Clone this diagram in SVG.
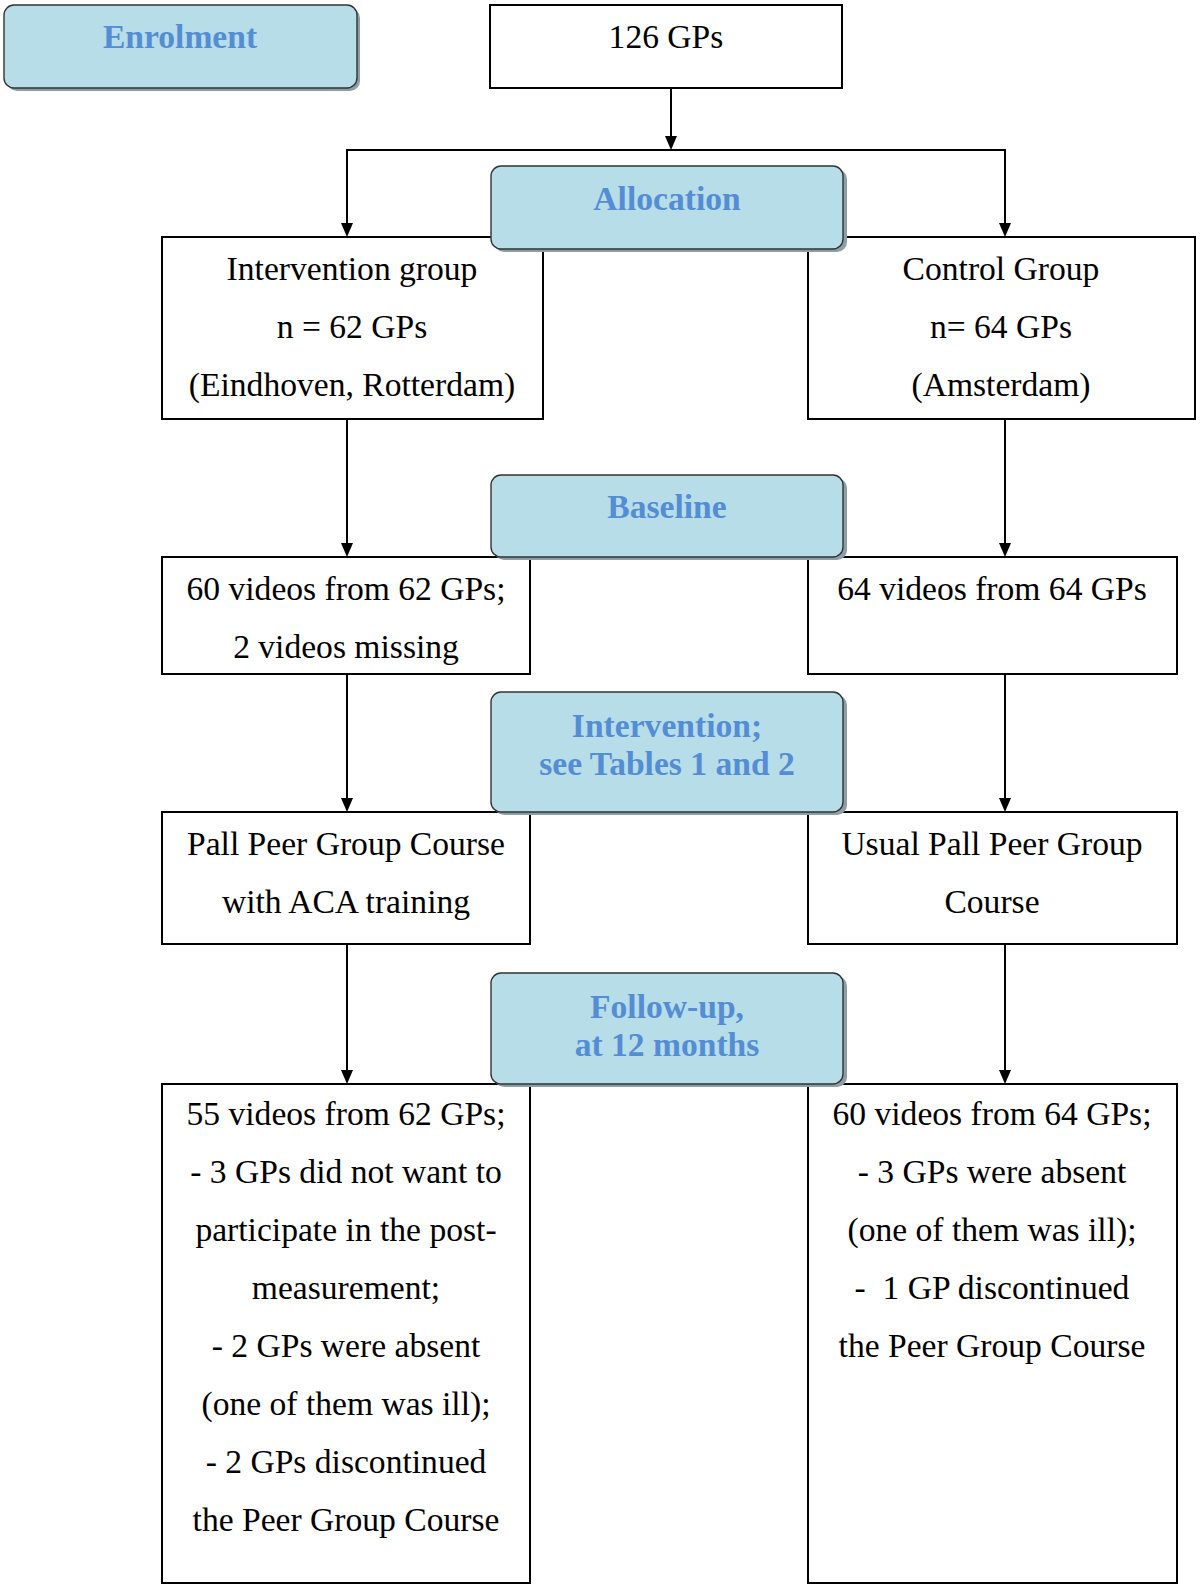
<svg xmlns="http://www.w3.org/2000/svg" width="1200" height="1586" viewBox="0 0 1200 1586">
<style>
.box{fill:#fff;stroke:#000;stroke-width:2}
.phase{fill:#B6DDE8;stroke:#333;stroke-width:1.4}
.shadow{fill:#8e9ea4}
.t{font-family:"Liberation Serif",serif;font-size:33.6px;fill:#000;text-anchor:middle;white-space:pre}
.h{font-family:"Liberation Serif",serif;font-size:33.6px;font-weight:bold;fill:#548DD4;text-anchor:middle}
.c{stroke:#000;stroke-width:2;fill:none}
</style>
<g id="connectors">
<line class="c" x1="671" y1="88" x2="671" y2="140"/>
<path d="M665,136 L677,136 L671,150 Z"/>
<polyline class="c" points="347,225 347,150 1005,150 1005,225"/>
<path d="M341,223 L353,223 L347,237 Z"/>
<path d="M999,223 L1011,223 L1005,237 Z"/>
<line class="c" x1="347" y1="419" x2="347" y2="545"/>
<path d="M341,543 L353,543 L347,557 Z"/>
<line class="c" x1="1005" y1="419" x2="1005" y2="545"/>
<path d="M999,543 L1011,543 L1005,557 Z"/>
<line class="c" x1="347" y1="674" x2="347" y2="800"/>
<path d="M341,798 L353,798 L347,812 Z"/>
<line class="c" x1="1005" y1="674" x2="1005" y2="800"/>
<path d="M999,798 L1011,798 L1005,812 Z"/>
<line class="c" x1="347" y1="944" x2="347" y2="1072"/>
<path d="M341,1070 L353,1070 L347,1084 Z"/>
<line class="c" x1="1005" y1="944" x2="1005" y2="1072"/>
<path d="M999,1070 L1011,1070 L1005,1084 Z"/>
</g>
<g id="n126">
<rect class="box" x="490" y="5" width="352" height="83"/>
<text class="t" x="666" y="48">126 GPs</text>
</g>
<g id="intervention-group">
<rect class="box" x="162" y="237" width="381" height="182"/>
<text class="t" x="352" y="280">Intervention group</text>
<text class="t" x="352" y="338">n = 62 GPs</text>
<text class="t" x="352" y="396">(Eindhoven, Rotterdam)</text>
</g>
<g id="control-group">
<rect class="box" x="808" y="237" width="387" height="182"/>
<text class="t" x="1001" y="280">Control Group</text>
<text class="t" x="1001" y="338">n= 64 GPs</text>
<text class="t" x="1001" y="396">(Amsterdam)</text>
</g>
<g id="baseline-int">
<rect class="box" x="162" y="557" width="368" height="117"/>
<text class="t" x="346" y="600">60 videos from 62 GPs;</text>
<text class="t" x="346" y="658">2 videos missing</text>
</g>
<g id="baseline-ctl">
<rect class="box" x="808" y="557" width="369" height="117"/>
<text class="t" x="992" y="600">64 videos from 64 GPs</text>
</g>
<g id="course-int">
<rect class="box" x="162" y="812" width="368" height="132"/>
<text class="t" x="346" y="855">Pall Peer Group Course</text>
<text class="t" x="346" y="913">with ACA training</text>
</g>
<g id="course-ctl">
<rect class="box" x="808" y="812" width="369" height="132"/>
<text class="t" x="992" y="855">Usual Pall Peer Group</text>
<text class="t" x="992" y="913">Course</text>
</g>
<g id="followup-int">
<rect class="box" x="162" y="1084" width="368" height="499"/>
<text class="t" x="346" y="1125">55 videos from 62 GPs;</text>
<text class="t" x="346" y="1183">- 3 GPs did not want to</text>
<text class="t" x="346" y="1241">participate in the post-</text>
<text class="t" x="346" y="1299">measurement;</text>
<text class="t" x="346" y="1357">- 2 GPs were absent</text>
<text class="t" x="346" y="1415">(one of them was ill);</text>
<text class="t" x="346" y="1473">- 2 GPs discontinued</text>
<text class="t" x="346" y="1531">the Peer Group Course</text>
</g>
<g id="followup-ctl">
<rect class="box" x="808" y="1084" width="369" height="499"/>
<text class="t" x="992" y="1125">60 videos from 64 GPs;</text>
<text class="t" x="992" y="1183">- 3 GPs were absent</text>
<text class="t" x="992" y="1241">(one of them was ill);</text>
<text class="t" x="992" y="1299">-  1 GP discontinued</text>
<text class="t" x="992" y="1357">the Peer Group Course</text>
</g>
<g id="enrolment">
<rect class="shadow" x="7" y="8" width="353" height="83" rx="10"/>
<rect class="phase" x="4" y="5" width="353" height="83" rx="10"/>
<text class="h" x="180" y="48">Enrolment</text>
</g>
<g id="allocation">
<rect class="shadow" x="494" y="169" width="353" height="83" rx="10"/>
<rect class="phase" x="491" y="166" width="352" height="83" rx="10"/>
<text class="h" x="667" y="210">Allocation</text>
</g>
<g id="baseline">
<rect class="shadow" x="494" y="478" width="353" height="82" rx="10"/>
<rect class="phase" x="491" y="475" width="352" height="82" rx="10"/>
<text class="h" x="667" y="518">Baseline</text>
</g>
<g id="intervention-phase">
<rect class="shadow" x="494" y="695" width="353" height="120" rx="10"/>
<rect class="phase" x="491" y="692" width="352" height="120" rx="10"/>
<text class="h" x="667" y="737">Intervention;</text>
<text class="h" x="667" y="775">see Tables 1 and 2</text>
</g>
<g id="followup-phase">
<rect class="shadow" x="494" y="976" width="353" height="111" rx="10"/>
<rect class="phase" x="491" y="973" width="352" height="111" rx="10"/>
<text class="h" x="667" y="1018">Follow-up,</text>
<text class="h" x="667" y="1056">at 12 months</text>
</g>
</svg>
